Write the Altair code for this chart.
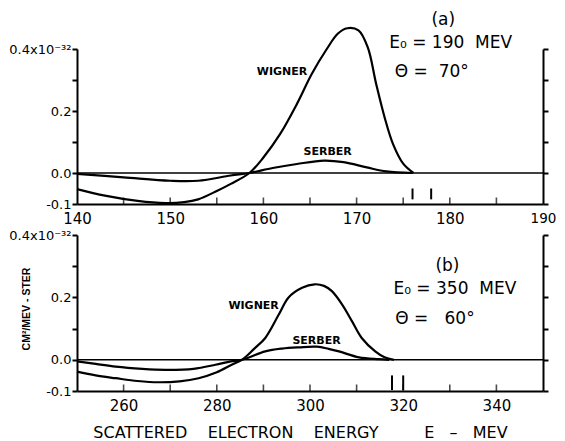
import altair as alt
import pandas as pd

FONT = "DejaVu Sans"

# ---------------- Panel (a): E0 = 190 MeV, theta = 70 deg ----------------
a_wigner_E = [140, 143, 146.5, 149.5, 151.5, 153, 155, 156.5, 158.5, 160, 161.8, 163.6, 165.2,
              166.8, 168, 169, 170.2, 171.2, 172.1, 173, 173.9, 175, 176.1]
a_wigner_v = [-0.052, -0.073, -0.09, -0.097, -0.094, -0.085, -0.058, -0.035, 0.0, 0.05, 0.126, 0.223, 0.32,
              0.40, 0.45, 0.467, 0.46, 0.405, 0.287, 0.18, 0.094, 0.03, 0.0]
a_serber_E = [140, 145, 150, 153, 156.5, 158.5, 161, 163.6, 166.5, 168.6, 171.1, 173.2, 176]
a_serber_v = [-0.003, -0.014, -0.025, -0.025, -0.008, 0.0, 0.016, 0.029, 0.04, 0.035, 0.018, 0.005, 0.0]
a_markers = [176, 178]
a_marker_top = -0.05
a_marker_bottom = -0.085
a_xdomain = [140, 190]
a_xlabels = [140, 150, 160, 170, 180, 190]
a_xticks = [145, 150, 155, 160, 165, 170, 175, 180, 185]
a_curve_labels = ["WIGNER", "SERBER"]
a_curve_label_E = [162.0, 166.9]
a_curve_label_v = [0.325, 0.067]
a_head = ["(a)"]
a_head_E = [179.3]
a_head_v = [0.493]
a_info = ["E\u2080 = 190\u00a0\u00a0MEV", "\u0398 =\u00a0\u00a070\u00b0"]
a_info_E = [173.5, 174.1]
a_info_v = [0.42, 0.325]

# ---------------- Panel (b): E0 = 350 MeV, theta = 60 deg ----------------
b_wigner_E = [250, 254, 258.3, 263, 267.5, 272, 276.1, 280, 283.2, 285.4, 288, 290.4, 293.3,
              295.4, 298.3, 301, 303, 304.7, 306.9, 309, 311.1, 314, 316, 318]
b_wigner_v = [-0.038, -0.05, -0.059, -0.068, -0.072, -0.069, -0.059, -0.04, -0.016, 0.0, 0.035, 0.07, 0.145,
              0.2, 0.231, 0.242, 0.237, 0.22, 0.177, 0.124, 0.07, 0.027, 0.008, 0.0]
b_serber_E = [250, 254, 258.3, 264, 269, 275, 279.7, 283, 285.4, 290.4, 294, 297.6, 301.5,
              304, 306.2, 310.5, 314.7, 317]
b_serber_v = [-0.005, -0.013, -0.022, -0.029, -0.032, -0.029, -0.016, -0.005, 0.0, 0.027, 0.036, 0.04, 0.042,
              0.035, 0.027, 0.008, 0.002, 0.0]
b_markers = [317.6, 320]
b_marker_top = -0.05
b_marker_bottom = -0.097
b_xdomain = [250, 350]
b_xlabels = [260, 280, 300, 320, 340]
b_xticks = [260, 270, 280, 290, 300, 310, 320, 330, 340]
b_curve_labels = ["WIGNER", "SERBER"]
b_curve_label_E = [287.9, 301.4]
b_curve_label_v = [0.172, 0.059]
b_head = ["(b)"]
b_head_E = [329.5]
b_head_v = [0.301]
b_info = ["E\u2080 = 350\u00a0\u00a0MEV", "\u0398 =\u00a0\u00a0\u00a060\u00b0"]
b_info_E = [317.9, 318.3]
b_info_v = [0.227, 0.13]

y_values = [-0.1, 0.0, 0.1, 0.2, 0.3, 0.4]
y_domain = [-0.1, 0.4]
y_label_expr = ("datum.value > 0.35 ? '0.4x10\u207b\u00b3\u00b2' : "
                "(abs(datum.value - 0.2) < 0.01 ? '0.2' : "
                "(abs(datum.value) < 0.01 ? '0.0' : "
                "(datum.value < -0.05 ? '-0.1' : '')))")

NB = "\u00a0"
x_title_text = ("SCATTERED" + NB * 4 + "ELECTRON" + NB * 4 + "ENERGY" + NB * 9
                + "E" + NB * 3 + "\u2013" + NB * 3 + "MEV")
y_title_text = "CM\u00b2/MEV - STER"

PLOT_W = 466


def panel(wE, wv, sE, sv, markers, m_top, m_bot, xdom, xlabels, xticks,
          cl, clE, clv, hd, hdE, hdv, inf, infE, infv, height, with_titles):
    xs = alt.Scale(domain=xdom, nice=False, zero=False)
    ys = alt.Scale(domain=y_domain, nice=False, zero=False)

    x_axis_kw = dict(values=xlabels, format="d", ticks=False, grid=False,
                     domainWidth=2, domainColor="black",
                     labelFont=FONT, labelColor="black",
                     labelFontSize={"condition": {"test": "datum.value === %d" % xdom[1],
                                                  "value": 13.5}, "value": 15},
                     labelPadding=7, labelFlush=False, labelOverlap=False)
    if with_titles:
        x_axis_kw.update(title=x_title_text, titleFont=FONT, titleFontSize=16,
                         titleFontWeight="normal", titleColor="black",
                         titleX=223, titleY=46, titleBaseline="alphabetic",
                         titleAlign="center", titleAnchor="middle")
    else:
        x_axis_kw.update(title="")
    x_axis = alt.Axis(**x_axis_kw)

    y_axis_kw = dict(values=y_values, labelExpr=y_label_expr, grid=False,
                     domainWidth=2, domainColor="black", tickSize=5, tickWidth=2,
                     tickColor="black", labelFont=FONT, labelFontSize=13,
                     labelColor="black", labelPadding=1, labelFlush=False,
                     labelOverlap=False)
    if with_titles:
        y_axis_kw.update(title=y_title_text, titleFont="Liberation Sans", titleFontSize=10.5,
                         titleFontWeight="bold", titleColor="black",
                         titleX=-46, titleY=73.5, titleAngle=270,
                         titleAlign="center", titleBaseline="bottom")
    else:
        y_axis_kw.update(title="")
    y_axis_left = alt.Axis(**y_axis_kw)
    y_axis_right = alt.Axis(orient="right", values=y_values, labels=False, grid=False,
                            domainWidth=2, domainColor="black", tickSize=5,
                            tickWidth=2, tickColor="black", title="")

    X = alt.X("E:Q", scale=xs, axis=x_axis)

    curves = pd.DataFrame({
        "E": wE + sE,
        "v": wv + sv,
        "model": ["WIGNER"] * len(wE) + ["SERBER"] * len(sE),
    })
    lines = alt.Chart(curves).mark_line(color="black", strokeWidth=2.2,
                                        interpolate="catmull-rom").encode(
        x=X,
        y=alt.Y("v:Q", scale=ys, axis=y_axis_left),
        detail="model:N",
    )

    zero = pd.DataFrame({"E": [xdom[0]], "E2": [xdom[1]], "v": [0.0]})
    zero_line = alt.Chart(zero).mark_rule(color="black", strokeWidth=1.6).encode(
        x=X,
        x2="E2:Q",
        y=alt.Y("v:Q", scale=ys, axis=y_axis_right),
    )

    mk = pd.DataFrame({"E": markers, "top": [m_top] * len(markers),
                       "bot": [m_bot] * len(markers)})
    marker_rules = alt.Chart(mk).mark_rule(color="black", strokeWidth=2).encode(
        x=X,
        y=alt.Y("top:Q", scale=ys, axis=None),
        y2="bot:Q",
    )

    tk = pd.DataFrame({"E": xticks})
    x_ticks = alt.Chart(tk).mark_tick(color="black", thickness=1.6, size=7,
                                      orient="vertical").encode(
        x=X,
        y=alt.value(height - 3),
    )

    lab = pd.DataFrame({"E": clE, "v": clv, "t": cl})
    curve_text = alt.Chart(lab).mark_text(font=FONT, fontSize=11, fontWeight="bold",
                                          color="black", align="center",
                                          baseline="middle").encode(
        x=X,
        y=alt.Y("v:Q", scale=ys, axis=None),
        text="t:N",
    )

    hdf = pd.DataFrame({"E": hdE, "v": hdv, "t": hd})
    head_text = alt.Chart(hdf).mark_text(font=FONT, fontSize=17, color="black",
                                         align="center", baseline="middle").encode(
        x=X,
        y=alt.Y("v:Q", scale=ys, axis=None),
        text="t:N",
    )

    idf = pd.DataFrame({"E": infE, "v": infv, "t": inf})
    info_text = alt.Chart(idf).mark_text(font=FONT, fontSize=17, color="black",
                                         align="left", baseline="middle").encode(
        x=X,
        y=alt.Y("v:Q", scale=ys, axis=None),
        text="t:N",
    )

    return alt.layer(lines, zero_line, marker_rules, x_ticks, curve_text,
                     head_text, info_text).resolve_scale(y="independent").resolve_axis(
        y="independent").properties(width=PLOT_W, height=height)


pa = panel(a_wigner_E, a_wigner_v, a_serber_E, a_serber_v, a_markers, a_marker_top,
           a_marker_bottom, a_xdomain, a_xlabels, a_xticks, a_curve_labels,
           a_curve_label_E, a_curve_label_v, a_head, a_head_E, a_head_v, a_info,
           a_info_E, a_info_v, 155, False)
pb = panel(b_wigner_E, b_wigner_v, b_serber_E, b_serber_v, b_markers, b_marker_top,
           b_marker_bottom, b_xdomain, b_xlabels, b_xticks, b_curve_labels,
           b_curve_label_E, b_curve_label_v, b_head, b_head_E, b_head_v, b_info,
           b_info_E, b_info_v, 156, True)

chart = alt.vconcat(pa, pb, spacing=31, bounds="flush").properties(
    padding={"left": 0, "top": 3, "right": 0, "bottom": 0},
    background="white",
).configure_view(stroke=None)

chart.save("out.html", embed_options={"renderer": "svg", "actions": False})
